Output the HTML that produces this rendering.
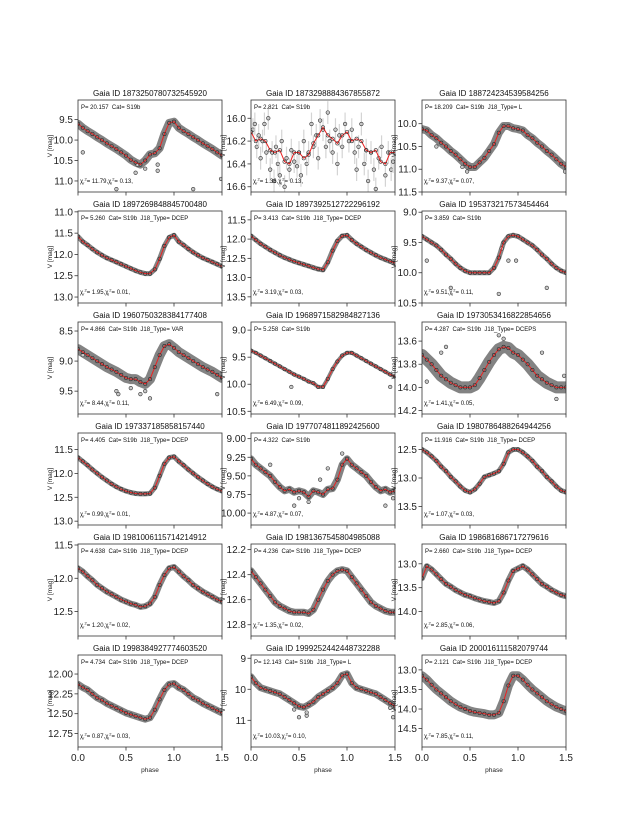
<!DOCTYPE html>
<html><head><meta charset="utf-8"><style>
html,body{margin:0;padding:0;background:#fff;}
svg{display:block;font-family:"Liberation Sans","DejaVu Sans",sans-serif;}
.pre{white-space:pre;}
</style></head>
<body>
<svg id="fig" width="630" height="840" viewBox="0 0 630 840" xmlns="http://www.w3.org/2000/svg"></svg>
<script>
// ---- data ----
const gaiaIds = ["1873250780732545920","1873298884367855872","188724234539584256","1897269848845700480","1897392512722296192","195373217573454464","1960750328384177408","1968971582984827136","1973053416822854656","197337185858157440","1977074811892425600","1980786488264944256","1981006115714214912","1981367545804985088","198681686717279616","1998384927774603520","1999252442448732288","200016111582079744"];
const periods = ["20.157","2.821","18.209","5.260","3.413","3.859","4.866","5.258","4.287","4.405","4.322","11.916","4.638","4.236","2.660","4.734","12.143","2.121"];
const types = ["","","L","DCEP","DCEP","","VAR","","DCEPS","DCEP","","DCEP","DCEP","DCEP","DCEP","DCEP","L","DCEP"];
const chiR = ["11.79","1.36","9.37","1.95","3.19","9.51","8.44","6.49","1.41","0.99","4.87","1.07","1.20","1.35","2.85","0.87","10.03","7.85"];
const chiI = ["0.13","0.13","0.07","0.01","0.03","0.11","0.11","0.09","0.05","0.01","0.07","0.03","0.02","0.02","0.06","0.03","0.10","0.11"];
const yRanges = [[9.02,11.27],[15.84,16.646],[9.48,11.5],[10.98,13.14],[11.27,13.66],[8.98,10.5],[8.35,9.88],[8.85,10.55],[13.435,14.23],[11.155,13.08],[8.924,10.16],[12.21,13.825],[11.485,12.867],[12.155,12.89],[12.586,14.51],[11.76,12.92],[8.895,11.86],[12.62,14.97]];
const yTicks = [["9.5","10.0","10.5","11.0"],["16.0","16.2","16.4","16.6"],["10.0","10.5","11.0","11.5"],["11.0","11.5","12.0","12.5","13.0"],["11.5","12.0","12.5","13.0","13.5"],["9.0","9.5","10.0","10.5"],["8.5","9.0","9.5"],["9.0","9.5","10.0","10.5"],["13.6","13.8","14.0","14.2"],["11.5","12.0","12.5","13.0"],["9.00","9.25","9.50","9.75","10.00"],["12.5","13.0","13.5"],["11.5","12.0","12.5"],["12.2","12.4","12.6","12.8"],["13.0","13.5","14.0"],["12.00","12.25","12.50","12.75"],["9","10","11"],["13.0","13.5","14.0","14.5"]];
const xTicks = ["0.0","0.5","1.0","1.5"];
const phases = [0,0.05,0.1,0.15,0.2,0.25,0.3,0.35,0.4,0.45,0.5,0.55,0.6,0.65,0.7,0.75,0.8,0.85,0.9,0.95,1.0];
const mags = [
[9.6,9.7,9.78,9.85,9.93,10.0,10.08,10.15,10.22,10.3,10.38,10.48,10.55,10.6,10.5,10.35,10.32,10.2,9.85,9.58,9.55],
[16.12,16.2,16.18,16.2,16.28,16.3,16.28,16.38,16.4,16.3,16.3,16.35,16.32,16.22,16.15,16.08,16.15,16.18,16.22,16.15,16.12],
[10.12,10.15,10.25,10.32,10.42,10.5,10.6,10.68,10.78,10.88,10.95,10.95,10.85,10.75,10.6,10.45,10.2,10.05,10.05,10.1,10.12],
[11.58,11.7,11.78,11.87,11.95,12.02,12.08,12.13,12.18,12.23,12.28,12.33,12.38,12.42,12.45,12.45,12.35,12.1,11.8,11.6,11.55],
[11.92,12.02,12.12,12.2,12.28,12.35,12.42,12.48,12.53,12.58,12.62,12.66,12.7,12.74,12.78,12.8,12.6,12.3,12.05,11.92,11.9],
[9.4,9.45,9.5,9.55,9.62,9.7,9.77,9.85,9.92,9.97,10.0,10.0,10.0,10.0,10.0,9.92,9.75,9.5,9.4,9.38,9.4],
[8.8,8.85,8.9,8.95,9.0,9.05,9.1,9.14,9.18,9.23,9.28,9.3,9.3,9.35,9.38,9.3,9.1,8.9,8.75,8.72,8.78],
[9.38,9.42,9.47,9.52,9.57,9.62,9.67,9.72,9.77,9.82,9.86,9.9,9.95,9.98,10.05,10.05,9.9,9.72,9.58,9.47,9.42],
[13.72,13.76,13.8,13.85,13.9,13.93,13.96,13.98,14.0,14.0,14.0,13.98,13.92,13.85,13.78,13.72,13.67,13.65,13.66,13.7,13.72],
[11.67,11.75,11.83,11.92,12.0,12.08,12.15,12.22,12.28,12.33,12.37,12.4,12.42,12.43,12.43,12.42,12.3,12.05,11.8,11.67,11.65],
[9.27,9.35,9.4,9.45,9.5,9.58,9.65,9.7,9.68,9.72,9.7,9.72,9.78,9.7,9.72,9.75,9.68,9.67,9.55,9.35,9.27],
[12.5,12.55,12.62,12.7,12.8,12.88,12.98,13.06,13.15,13.22,13.25,13.2,13.1,12.98,12.95,12.92,12.88,12.75,12.55,12.5,12.5],
[11.85,11.9,11.97,12.03,12.1,12.15,12.2,12.24,12.28,12.32,12.35,12.38,12.4,12.43,12.42,12.38,12.28,12.1,11.95,11.85,11.83],
[12.37,12.42,12.47,12.52,12.57,12.62,12.65,12.67,12.69,12.7,12.7,12.7,12.71,12.68,12.6,12.52,12.45,12.4,12.37,12.36,12.37],
[13.3,13.05,13.12,13.22,13.32,13.42,13.48,13.55,13.6,13.65,13.68,13.72,13.75,13.78,13.8,13.82,13.78,13.6,13.35,13.15,13.1],
[12.13,12.17,12.2,12.25,12.3,12.33,12.37,12.4,12.43,12.46,12.49,12.51,12.53,12.55,12.57,12.55,12.45,12.32,12.2,12.13,12.12],
[9.6,9.8,9.95,10.0,10.05,10.1,10.15,10.25,10.35,10.45,10.55,10.58,10.5,10.4,10.25,10.15,10.05,9.95,9.8,9.55,9.5],
[13.15,13.25,13.38,13.5,13.6,13.7,13.8,13.88,13.95,14.0,14.05,14.08,14.1,14.12,14.15,14.15,14.1,13.8,13.4,13.15,13.15]
];
const outlierPhases = [
[0.05,0.4,0.6,0.62,0.7,0.83,0.83,1.2,1.49],
[0.02,0.04,0.06,0.08,0.1,0.12,0.14,0.16,0.18,0.2,0.22,0.24,0.26,0.28,0.3,0.32,0.35,0.37,0.4,0.42,0.45,0.48,0.5,0.52,0.55,0.58,0.6,0.63,0.65,0.68,0.7,0.72,0.75,0.78,0.8,0.82,0.85,0.88,0.9,0.92,0.95,0.98,1.02,1.05,1.08,1.1,1.12,1.15,1.18,1.2,1.22,1.25,1.28,1.3,1.33,1.36,1.4,1.43,1.46,1.48],
[0.15,0.42,0.47,1.49],[],[],
[0.3,0.8,0.05,1.3,0.83,0.98,0.9],
[0.4,0.42,0.55,0.7,0.75,0.65,1.45,0.05],
[0.42,1.45],
[0.05,0.2,0.25,0.45,0.8,0.85,1.25,1.4,1.48],
[],
[0.45,0.5,0.6,0.72,0.8,0.95,1.4,1.48,0.2],
[],[],[],[],[],
[0.45,0.5,0.58,0.58,1.48,1.45],
[]
];
const outlierMags = [
[10.3,11.2,10.8,10.6,10.7,10.75,10.6,11.2,10.95],
[16.1,16.05,16.25,16.15,16.35,16.2,16.05,16.3,16.0,16.45,16.3,16.55,16.25,16.4,16.5,16.2,16.6,16.35,16.45,16.28,16.38,16.42,16.3,16.5,16.2,16.4,16.3,16.05,16.25,16.15,16.35,16.02,16.1,16.25,15.95,16.2,16.3,16.1,16.4,16.15,16.25,16.05,16.2,16.1,16.3,16.45,16.25,16.05,16.4,16.28,16.55,16.3,16.45,16.62,16.35,16.25,16.5,16.3,16.45,16.38],
[10.5,10.95,11.05,11.05],[],[],
[10.25,10.35,9.8,10.25,9.6,9.8,9.8],
[9.5,9.55,9.45,9.5,9.62,9.55,9.55,8.9],
[10.05,10.05],
[13.95,13.7,13.65,14.25,13.55,13.58,13.7,14.1,13.9],
[],
[9.9,9.8,9.85,9.55,9.4,9.2,9.9,9.8,9.35],
[],[],[],[],[],
[10.65,10.9,10.85,10.75,10.9,10.6],
[]
];
const bandWidths = [8,0,8,5,5,5,10,4,12,5,7,5,6,7,6,7,7,9];

// ---- layout ----
const NS = "http://www.w3.org/2000/svg";
const svg = document.getElementById("fig");
const colLeft = [78,251,422], rowTop = [100,211,322,433,544,655];
const W = 144, H = 92;
function mk(tag, attrs, parent){
  const e = document.createElementNS(NS, tag);
  for (const k in attrs) e.setAttribute(k, attrs[k]);
  (parent||svg).appendChild(e);
  return e;
}
for (let i = 0; i < 18; i++){
  const L = colLeft[i%3], T = rowTop[Math.floor(i/3)];
  const [y0,y1] = yRanges[i];
  const xs = p => L + p/1.5*W;
  const ys = m => T + (m-y0)/(y1-y0)*H;
  const g = mk("g", {});
  
  
  const cp = mk("clipPath", {id:"c"+i}, g);
  mk("rect", {x:L, y:T, width:W, height:H}, cp);
  const plot = mk("g", {"clip-path":"url(#c"+i+")"}, g);
  const pts = [];
  phases.forEach((p,k)=>pts.push([p, mags[i][k]]));
  phases.forEach((p,k)=>{ if (p>0 && p+1<=1.5001) pts.push([p+1, mags[i][k]]); });
  pts.sort((a,b)=>a[0]-b[0]);
  const d = pts.map((q,k)=>(k?"L":"M")+xs(q[0]).toFixed(1)+","+ys(q[1]).toFixed(1)).join("");
  if (bandWidths[i] > 0){
    const band = mk("path", {d:d, fill:"none", stroke:"#5a5a5a", "stroke-width":bandWidths[i], "stroke-linejoin":"round", "stroke-linecap":"round", opacity:"0.75"}, plot);
    
    
  }
  outlierPhases[i].forEach((p,k)=>{
    const m = outlierMags[i][k];
    if (i === 1){
      const eb = mk("line", {x1:xs(p), x2:xs(p), y1:ys(m-0.1), y2:ys(m+0.1), stroke:"#d4d4d4", "stroke-width":"1.2"}, plot);
      
      
    }
    const c = mk("circle", {cx:xs(p), cy:ys(m), r:1.8, fill:"#c8c8c8", stroke:"#333", "stroke-width":"0.6"}, plot);
    
    
  });
  const model = mk("path", {d:d, fill:"none", stroke:"#ee2020", "stroke-width":"1"}, plot);
  
  
  pts.forEach(q=>{
    const c = mk("circle", {cx:xs(q[0]), cy:ys(q[1]), r:1.7, fill:"none", stroke:"#2a2a2a", "stroke-width":"0.6"}, plot);
    
    
  });
  const fr = mk("rect", {x:L, y:T, width:W, height:H, fill:"none", stroke:"#333", "stroke-width":"0.8"}, g);
  
  
  yTicks[i].forEach(t=>{
    const y = ys(parseFloat(t));
    mk("line", {x1:L-3.5, x2:L, y1:y, y2:y, stroke:"#333", "stroke-width":"0.8"}, g);
    const tl = mk("text", {x:L-5, y:y+3.5, "font-size":"10", "text-anchor":"end", fill:"#222"}, g);
    tl.textContent = t;
    
    
  });
  xTicks.forEach(t=>{
    const x = xs(parseFloat(t));
    mk("line", {x1:x, x2:x, y1:T+H, y2:T+H+3.5, stroke:"#333", "stroke-width":"0.8"}, g);
    if (i >= 15){
      const tl = mk("text", {x:x, y:T+H+14, "font-size":"10", "text-anchor":"middle", fill:"#222"}, g);
      tl.textContent = t;
      
      
    }
  });
  if (i >= 15){
    const xl = mk("text", {x:L+W/2, y:T+H+25, "font-size":"6.5", "text-anchor":"middle", fill:"#222"}, g);
    xl.textContent = "phase";
    
    
  }
  const yl = mk("text", {x:0, y:0, "font-size":"6.5", "text-anchor":"middle", fill:"#222", transform:"translate("+(L-26)+","+(T+H/2)+") rotate(-90)"}, g);
  yl.textContent = "V [mag]";
  
  
  const ti = mk("text", {x:L+W/2, y:T-4, "font-size":"8", "text-anchor":"middle", fill:"#111"}, g);
  ti.textContent = "Gaia ID " + gaiaIds[i];
  
  
  const an = mk("text", {x:L+3, y:T+9, "font-size":"6", fill:"#111", "class":"pre"}, g);
  an.textContent = "P= " + periods[i] + "  Cat= S19b" + (types[i] ? "  J18_Type= " + types[i] : "");
  
  
  const ch = mk("text", {x:L+2, y:T+H-9, "font-size":"6", fill:"#111"}, g);
  
  
  ch.innerHTML = 'χ<tspan font-size="4" dy="1.5">r</tspan><tspan font-size="4" dy="-4">2</tspan><tspan dy="2.5">= ' + chiR[i] + ',χ</tspan><tspan font-size="4" dy="1.5">i</tspan><tspan font-size="4" dy="-4">2</tspan><tspan dy="2.5">= ' + chiI[i] + ',</tspan>';
}
</script>
</body></html>
